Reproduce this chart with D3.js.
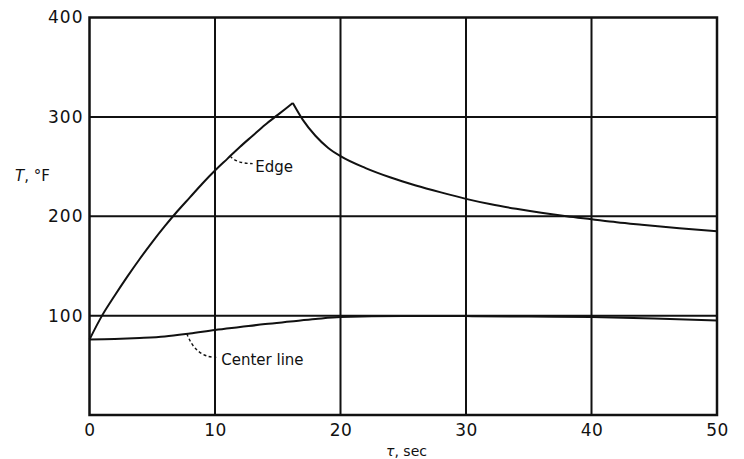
<!DOCTYPE html>
<html>
<head>
<meta charset="utf-8">
<script src="https://cdn.jsdelivr.net/npm/d3@7"></script>
<style>
  html, body { margin: 0; padding: 0; background: #fff; }
  svg { display: block; }
  text { font-family: "DejaVu Sans", sans-serif; fill: #111; }
</style>
</head>
<body>
<svg id="chart" width="744" height="459"></svg>
<script>
// ---- data ----
const edgeRiseTau  = [0, 1, 2, 3, 4, 5, 6, 7, 8, 9, 10, 11, 12, 13, 14, 15, 16.2];
const edgeRiseT    = [76, 100, 120, 139, 157, 174, 190, 205, 219, 233, 246, 258, 270, 281, 292, 302, 314];
const edgeFallTau  = [16.2, 17, 18, 19, 20, 22, 24, 26, 28, 30, 32, 34, 36, 38, 40, 42, 44, 47, 50];
const edgeFallT    = [314, 297, 281, 269, 260.5, 248.5, 239, 231, 224, 217.5, 212, 207.5, 203.5, 200, 197, 194, 191.5, 188, 185];
const centerTau    = [0, 2, 4, 6, 8, 10, 12, 14, 16, 18, 20, 25, 30, 35, 40, 45, 50];
const centerT      = [76, 76.5, 77.5, 79, 82, 85.5, 88.5, 91.5, 94, 96.5, 98.5, 99.5, 99.5, 99, 98.5, 97, 95];
const xTicks       = [0, 10, 20, 30, 40, 50];
const yTicks       = [100, 200, 300, 400];
const xGrid        = [10, 20, 30, 40];
const yGrid        = [100, 200, 300];
const labels       = ["Edge", "Center line"];
const labelPos     = [[13.2, 245], [10.5, 50]];
const leaderFrom   = [[11.2, 260.5], [7.75, 82]];
const leaderTo     = [[13.0, 253], [10.1, 58]];

// ---- layout ----
const svg = d3.select("#chart");
const x = d3.scaleLinear().domain([0, 50]).range([89.5, 717]);
const y = d3.scaleLinear().domain([0, 400]).range([415, 17.5]);

// grid
svg.append("g").selectAll("line").data(xGrid).join("line")
  .attr("x1", d => x(d)).attr("x2", d => x(d))
  .attr("y1", y(400)).attr("y2", y(0))
  .attr("stroke", "#111").attr("stroke-width", 2);
svg.append("g").selectAll("line").data(yGrid).join("line")
  .attr("x1", x(0)).attr("x2", x(50))
  .attr("y1", d => y(d)).attr("y2", d => y(d))
  .attr("stroke", "#111").attr("stroke-width", 2);

// frame
svg.append("rect")
  .attr("x", x(0)).attr("y", y(400))
  .attr("width", x(50) - x(0)).attr("height", y(0) - y(400))
  .attr("fill", "none").attr("stroke", "#111").attr("stroke-width", 2.5);

// axes (labels only)
const xAxis = svg.append("g").attr("transform", `translate(0,${y(0)})`)
  .call(d3.axisBottom(x).tickValues(xTicks).tickSize(0).tickPadding(9).tickFormat(d3.format("d")));
xAxis.select(".domain").remove();
xAxis.selectAll("text").attr("font-size", 17).attr("font-family", "DejaVu Sans").attr("fill", "#111").attr("letter-spacing", "0.5px");

const yAxis = svg.append("g").attr("transform", `translate(${x(0)},0)`)
  .call(d3.axisLeft(y).tickValues(yTicks).tickSize(0).tickPadding(6).tickFormat(d3.format("d")));
yAxis.select(".domain").remove();
yAxis.selectAll("text").attr("font-size", 17).attr("font-family", "DejaVu Sans").attr("fill", "#111").attr("letter-spacing", "1px");

// curves
const line = d3.line().x(d => x(d[0])).y(d => y(d[1])).curve(d3.curveMonotoneX);
const series = [
  d3.zip(edgeRiseTau, edgeRiseT),
  d3.zip(edgeFallTau, edgeFallT),
  d3.zip(centerTau, centerT)
];
svg.append("g").selectAll("path").data(series).join("path")
  .attr("d", line)
  .attr("fill", "none").attr("stroke", "#111").attr("stroke-width", 2);

// leaders
svg.append("g").selectAll("path").data(d3.range(labels.length)).join("path")
  .attr("d", i => {
    const x0 = x(leaderFrom[i][0]), y0 = y(leaderFrom[i][1]);
    const x1 = x(leaderTo[i][0]), y1 = y(leaderTo[i][1]);
    const cx = x0 + (x1 - x0) * 0.3, cy = y1;
    return `M${x0},${y0} Q${cx},${cy} ${x1},${y1}`;
  })
  .attr("fill", "none").attr("stroke", "#111").attr("stroke-width", 1.4)
  .attr("stroke-dasharray", "3,2.5");

// labels
svg.append("g").selectAll("text").data(labels).join("text")
  .attr("x", (d, i) => x(labelPos[i][0]))
  .attr("y", (d, i) => y(labelPos[i][1]))
  .attr("font-size", 15)
  .text(d => d);

// axis titles
svg.append("text").attr("x", 386).attr("y", 456).attr("font-size", 14)
  .html('<tspan font-style="italic">τ</tspan>, sec');
svg.append("text").attr("x", 15).attr("y", 181).attr("font-size", 15)
  .html('<tspan font-style="italic">T</tspan>, °F');
</script>
</body>
</html>
